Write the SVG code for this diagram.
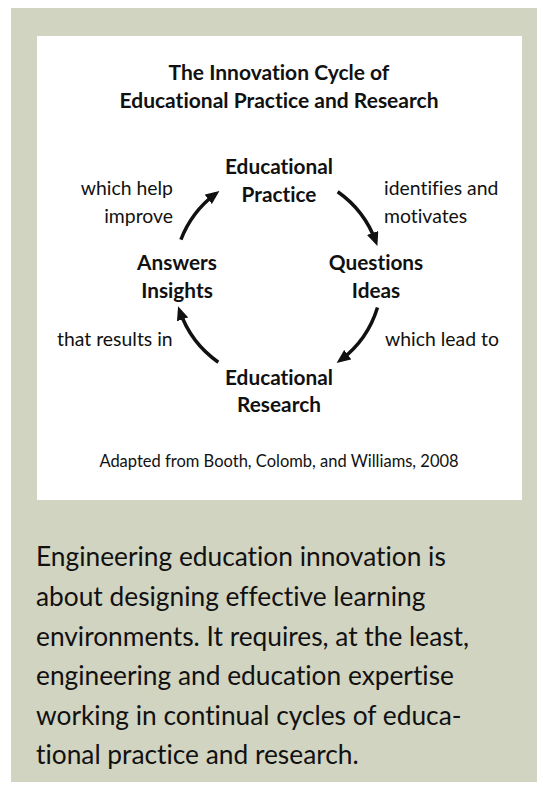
<svg xmlns="http://www.w3.org/2000/svg" width="548" height="786" viewBox="0 0 548 786">
<defs>
<style>
.t{font-family:Lato,"Noto Sans",sans-serif;fill:#111;font-variant-ligatures:none;}
.title{font-size:21px;font-weight:bold;text-anchor:middle;}
.node{font-size:20.8px;font-weight:bold;text-anchor:middle;}
.lbl{font-size:19.4px;}
.note{font-size:16.5px;text-anchor:middle;}
.para{font-size:26.3px;}
.arc{fill:none;stroke:#111;stroke-width:3.5;marker-end:url(#ah);}
</style>
<marker id="ah" markerUnits="userSpaceOnUse" markerWidth="14" markerHeight="12" refX="9" refY="6" orient="auto">
<path d="M0,0 L14,6 L0,12 z" fill="#111"/>
</marker>
</defs>
<rect x="0" y="0" width="548" height="786" fill="#ffffff"/>
<rect x="11" y="8" width="526" height="774" fill="#d1d4c0"/>
<rect x="37" y="36" width="485" height="464" fill="#ffffff"/>
<text class="t title" x="279" y="80">The Innovation Cycle of</text>
<text class="t title" x="279" y="108">Educational Practice and Research</text>
<g id="practice"><text class="t node" x="279" y="174">Educational</text><text class="t node" x="279" y="202">Practice</text></g>
<g id="questions"><text class="t node" x="376" y="270">Questions</text><text class="t node" x="376" y="298">Ideas</text></g>
<g id="research"><text class="t node" x="279" y="385">Educational</text><text class="t node" x="279" y="412">Research</text></g>
<g id="answers"><text class="t node" x="177" y="270">Answers</text><text class="t node" x="177" y="298">Insights</text></g>
<g id="connectors">
<path class="arc" d="M180.9,239.7 A104,104 0 0 1 215.4,193.9"/>
<path class="arc" d="M337.7,191.8 A104,104 0 0 1 375.7,241.4"/>
<path class="arc" d="M377.5,307.4 A104,104 0 0 1 340.6,360.1"/>
<path class="arc" d="M218.3,362.2 A104,104 0 0 1 179.7,310.9"/>
</g>
<text class="t lbl" x="173" y="195" text-anchor="end">which help</text>
<text class="t lbl" x="173" y="223" text-anchor="end">improve</text>
<text class="t lbl" x="384" y="195">identifies and</text>
<text class="t lbl" x="384" y="223">motivates</text>
<text class="t lbl" x="57" y="346">that results in</text>
<text class="t lbl" x="385" y="346">which lead to</text>
<text class="t note" x="279" y="467">Adapted from Booth, Colomb, and Williams, 2008</text>
<g class="t para">
<text x="36" y="566">Engineering education innovation is</text>
<text x="36" y="606">about designing effective learning</text>
<text x="36" y="646">environments. It requires, at the least,</text>
<text x="36" y="685">engineering and education expertise</text>
<text x="36" y="725">working in continual cycles of educa-</text>
<text x="36" y="764">tional practice and research.</text>
</g>
</svg>
